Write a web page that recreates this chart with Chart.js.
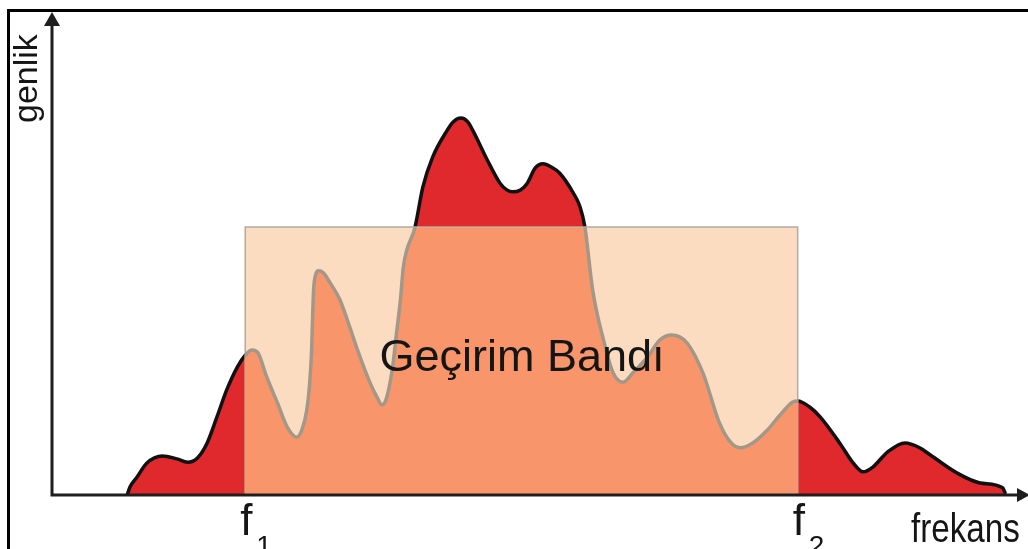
<!DOCTYPE html>
<html>
<head>
<meta charset="utf-8">
<script src="https://cdn.jsdelivr.net/npm/chart.js@4"></script>
<style>
html,body{margin:0;padding:0;background:#fff;}
canvas{display:block;}
</style>
</head>
<body>
<canvas id="c" width="1028" height="549"></canvas>
<script>
// ---- data (frequency 0..100, amplitude 0..100) ----
const freq = [7.7, 8.0, 8.7, 9.7, 11.3, 12.8, 13.9, 14.9, 15.9, 16.9, 17.9, 19.0, 19.8, 20.5, 21.1, 22.0, 23.1, 24.1, 25.1, 25.6,
  26.1, 26.4, 26.6, 26.7, 26.8, 27.0, 27.3, 27.8, 28.5, 29.5, 30.5, 31.3, 32.6, 33.3, 33.8, 34.3, 34.9, 35.3, 35.7, 36.0,
  37.2, 38.0, 39.0, 40.5, 41.1, 41.9, 42.6, 43.1, 44.6, 45.9, 46.6, 47.2, 48.0, 48.7, 49.5, 50.3, 51.2, 52.0, 53.4, 54.1,
  54.6, 55.4, 56.5, 57.5, 58.5, 59.5, 61.0, 62.3, 63.5, 64.3, 65.1, 66.7, 68.4, 69.5, 70.5, 71.8, 73.3, 74.6, 75.9, 76.4,
  77.6, 78.7, 80.7, 82.1, 83.1, 84.1, 85.6, 87.4, 88.9, 90.0, 92.7, 95.1, 97.4, 97.7];
const amplitude = [0, 1.7, 3.7, 6.6, 8.1, 7.5, 6.8, 7.7, 10.8, 16.2, 21.8, 26.6, 29.0, 30.1, 29.5, 24.5, 19.1, 14.1, 12.0, 13.5,
  17.6, 23.2, 30.1, 36.9, 42.5, 45.6, 46.5, 46.1, 44.0, 40.5, 34.9, 30.1, 23.2, 20.3, 18.7, 20.3, 26.6, 33.6, 40.5, 47.3,
  55.6, 63.9, 70.1, 75.7, 77.4, 78.2, 77.4, 75.7, 69.5, 64.7, 63.3, 62.9, 63.3, 64.7, 67.8, 68.7, 68.0, 66.8, 62.7, 59.8,
  55.6, 42.5, 32.2, 25.3, 23.4, 25.3, 28.6, 32.2, 33.2, 32.8, 31.5, 25.3, 14.9, 11.0, 9.8, 10.8, 13.5, 16.6, 19.3, 19.5,
  18.3, 16.2, 10.8, 6.6, 4.8, 5.8, 8.9, 10.8, 9.8, 8.3, 4.6, 2.5, 1.5, 0.2];
const bandEdges = [19.8, 76.4];     // f1, f2
const bandLevel = 55.6;             // height of the pass band
const bandLabel = 'Geçirim Bandı';
const edgeLabels = ['1', '2'];
const axisLabels = ['genlik', 'frekans'];

const RED = '#e0292c', PEACH = '#fbdcc1', SALMON = '#f9956a', GREY_LINE = '#a39888', BAND_BORDER = '#b0aaa4';

const curvePts = freq.map((f, i) => ({x: f, y: amplitude[i]}));
const bandPts = [
  {x: bandEdges[0], y: 0}, {x: bandEdges[0], y: bandLevel},
  {x: bandEdges[1], y: bandLevel}, {x: bandEdges[1], y: 0}
];

function tracePath(ctx, pts) {
  ctx.moveTo(pts[0].x, pts[0].y);
  for (let i = 1; i < pts.length; i++) {
    const p = pts[i - 1], q = pts[i];
    ctx.bezierCurveTo(p.cp2x, p.cp2y, q.cp1x, q.cp1y, q.x, q.y);
  }
}

const bandOverlay = {
  id: 'bandOverlay',
  afterDatasetsDraw(chart) {
    const ctx = chart.ctx;
    const b = chart.getDatasetMeta(1).data;
    const x1 = b[0].x, x2 = b[3].x, yt = b[1].y, yb = b[0].y;
    const pts = chart.getDatasetMeta(0).data;
    ctx.save();
    ctx.beginPath();
    ctx.rect(x1 - 0.5, yt + 0.5, x2 - x1 + 1, yb - yt);
    ctx.clip();
    ctx.beginPath();
    tracePath(ctx, pts);
    ctx.lineTo(pts[pts.length - 1].x, yb);
    ctx.lineTo(pts[0].x, yb);
    ctx.closePath();
    ctx.fillStyle = SALMON;
    ctx.fill();
    ctx.beginPath();
    tracePath(ctx, pts);
    ctx.strokeStyle = GREY_LINE;
    ctx.lineWidth = 3.5;
    ctx.lineJoin = 'round';
    ctx.stroke();
    ctx.restore();
  },
  afterDraw(chart) {
    const ctx = chart.ctx;
    const xs = chart.scales.x, ys = chart.scales.y;
    const x0 = xs.getPixelForValue(0), y0 = ys.getPixelForValue(0);
    const yTop = chart.chartArea.top, xEnd = chart.chartArea.right;
    ctx.save();
    // frame
    ctx.fillStyle = '#000';
    ctx.fillRect(7, 9, 1021, 3);
    ctx.fillRect(7, 9, 3, 540);
    // axes
    ctx.strokeStyle = '#1e1e1e';
    ctx.lineWidth = 3;
    ctx.beginPath();
    ctx.moveTo(x0, y0 + 1.5); ctx.lineTo(x0, yTop + 8);
    ctx.moveTo(x0 - 1.5, y0); ctx.lineTo(xEnd - 8, y0);
    ctx.stroke();
    ctx.fillStyle = '#1e1e1e';
    ctx.beginPath();
    ctx.moveTo(x0, yTop - 1); ctx.lineTo(x0 - 8, yTop + 13); ctx.lineTo(x0 + 8, yTop + 13); ctx.closePath();
    ctx.fill();
    ctx.beginPath();
    ctx.moveTo(xEnd + 2, y0); ctx.lineTo(xEnd - 11, y0 - 7); ctx.lineTo(xEnd - 11, y0 + 7); ctx.closePath();
    ctx.fill();
    // texts
    ctx.fillStyle = '#151515';
    ctx.textBaseline = 'alphabetic';
    ctx.font = '45px "Liberation Sans", Arial, sans-serif';
    ctx.textAlign = 'center';
    ctx.fillText(bandLabel, 522, 371);
    // f1, f2
    bandEdges.forEach((e, i) => {
      const px = xs.getPixelForValue(e);
      ctx.textAlign = 'left';
      ctx.font = '44px "Liberation Sans", Arial, sans-serif';
      ctx.fillText('f', px - 5, 535);
      ctx.font = '28px "Liberation Sans", Arial, sans-serif';
      ctx.fillText(edgeLabels[i], px + 11, 555);
    });
    // frekans (condensed)
    ctx.save();
    ctx.translate(911, 542);
    ctx.scale(0.83, 1);
    ctx.font = '40px "Liberation Sans", Arial, sans-serif';
    ctx.textAlign = 'left';
    ctx.fillText(axisLabels[1], 0, 0);
    ctx.restore();
    // genlik (rotated)
    ctx.save();
    ctx.translate(37, 123);
    ctx.rotate(-Math.PI / 2);
    ctx.font = '34px "Liberation Sans", Arial, sans-serif';
    ctx.textAlign = 'left';
    ctx.fillText(axisLabels[0], 0, 0);
    ctx.restore();
    ctx.restore();
  }
};

new Chart(document.getElementById('c'), {
  type: 'line',
  data: {
    datasets: [
      {
        data: curvePts,
        backgroundColor: RED,
        borderColor: '#111',
        borderWidth: 3.5,
        borderJoinStyle: 'round',
        fill: 'origin',
        cubicInterpolationMode: 'monotone',
        pointRadius: 0,
        order: 1
      },
      {
        data: bandPts,
        backgroundColor: PEACH,
        borderColor: BAND_BORDER,
        borderWidth: 1.5,
        fill: 'origin',
        tension: 0,
        pointRadius: 0,
        order: 0
      }
    ]
  },
  options: {
    responsive: false,
    animation: false,
    devicePixelRatio: 1,
    layout: {padding: {left: 52, right: 0, top: 13, bottom: 54}},
    scales: {
      x: {type: 'linear', min: 0, max: 100, display: false},
      y: {type: 'linear', min: 0, max: 100, display: false}
    },
    plugins: {legend: {display: false}, tooltip: {enabled: false}}
  },
  plugins: [bandOverlay]
});
</script>
</body>
</html>
